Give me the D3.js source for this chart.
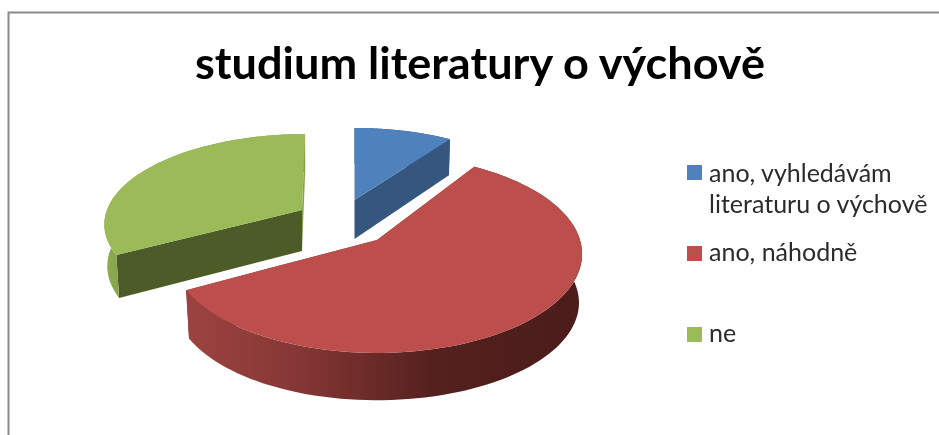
<!DOCTYPE html>
<html><head><meta charset="utf-8">
<script src="https://cdn.jsdelivr.net/npm/d3@7"></script>
<style>
html,body{margin:0;padding:0;background:#fff;overflow:hidden}
svg{display:block;filter:blur(0.45px)}
text{font-family:Lato,"Noto Sans",sans-serif}
</style></head><body>
<script>
const titleText = "studium literatury o výchově";
const categories = ["ano, vyhledávám|literaturu o výchově", "ano, náhodně", "ne"];
const values = [9, 58, 33];
const topColors = ["#4f81bd", "#bc4f4c", "#9bbb59"];
const cutStartColors = ["#35577f", "#7f3432", "#4d5b28"];
const cutEndColors = ["#35577f", "#7f3432", "#87a34d"];

const W = 939, H = 435;
// projection of each exploded slice: apex, radii, perspective, skew, wall depth, bottom-rim scale
const proj = [
  {cx:354.5, cy:200, rx:178, ry:72, p:0,    skew:0,     depth:39, shx:0.99,  shy:1.05},
  {cx:377,   cy:240, rx:203, ry:97, p:0.141,skew:0,     depth:49, shx:0.985, shy:0.985},
  {cx:302,   cy:210, rx:195, ry:87, p:0.146,skew:-0.04, depth:41, shx:0.985, shy:1.04}
];
const svg = d3.select("body").append("svg").attr("width",W).attr("height",H);
const defs = svg.append("defs");

const redWall = defs.append("linearGradient").attr("id","redWall")
  .attr("gradientUnits","userSpaceOnUse").attr("x1",190).attr("x2",582).attr("y1",0).attr("y2",0);
[[0,"#9c4341"],[0.28,"#853735"],[0.62,"#54211e"],[1,"#4a1c1a"]].forEach(s=>redWall.append("stop").attr("offset",s[0]).attr("stop-color",s[1]));
const greenWall = defs.append("linearGradient").attr("id","greenWall")
  .attr("gradientUnits","userSpaceOnUse").attr("x1",104).attr("x2",125).attr("y1",0).attr("y2",0);
[[0,"#8fac52"],[1,"#86a04a"]].forEach(s=>greenWall.append("stop").attr("offset",s[0]).attr("stop-color",s[1]));

// frame
svg.append("path").attr("d",`M${W},12.5H8.5V${H}`).attr("fill","none").attr("stroke","#8a8a8a").attr("stroke-width",2);

svg.append("text").attr("x",480).attr("y",79).attr("text-anchor","middle")
  .attr("font-size",43).attr("font-weight",700).attr("fill","#000")
  .attr("textLength",570).attr("lengthAdjust","spacingAndGlyphs").text(titleText);

const pie = d3.pie().sort(null).value(d=>d);
const arcs = pie(values);

function pt(q,a,bottom){
  const c=Math.cos(a), s=Math.sin(a), k=1/(1+q.p*c);
  const sx=bottom?q.shx:1, sy=bottom?q.shy:1;
  const y=-q.ry*c*k*sy;
  return [q.cx+q.rx*s*k*sx+q.skew*y, q.cy+y+(bottom?q.depth:0)];
}
function samples(a0,a1){ return d3.range(0,101).map(i=>a0+(a1-a0)*i/100); }
const line = d3.line();
const wallFill = ["#35577f","url(#redWall)","url(#greenWall)"];
const order = [0,2,1];

order.forEach(i=>{
  const d=arcs[i], q=proj[i], g=svg.append("g");
  const as=samples(d.startAngle,d.endAngle);
  const top=as.map(a=>pt(q,a,false)), bot=as.map(a=>pt(q,a,true));
  const apexT=[q.cx,q.cy], apexB=[q.cx,q.cy+q.depth];
  // cut faces
  g.append("path").attr("d",line([apexT,top[0],bot[0],apexB])+"Z").attr("fill",cutStartColors[i]);
  g.append("path").attr("d",line([apexT,top[100],bot[100],apexB])+"Z").attr("fill",cutEndColors[i]);
  // outer wall
  g.append("path").attr("d",line(top.concat(bot.slice().reverse()))+"Z").attr("fill",wallFill[i]);
  // top face
  g.append("path").attr("d",line([apexT].concat(top))+"Z").attr("fill",topColors[i]);
});

// legend
const legendSwatchY=[165,246,327], legendLineY=[[182,213],[261],[342]];
const lg=svg.append("g");
categories.forEach((c,i)=>{
  lg.append("rect").attr("x",687).attr("y",legendSwatchY[i]).attr("width",15).attr("height",15).attr("fill",topColors[i]);
  c.split("|").forEach((t,j)=>{
    lg.append("text").attr("x",709).attr("y",legendLineY[i][j]).attr("font-size",25).attr("fill","#2b2b2b").text(t);
  });
});
</script>
</body></html>
